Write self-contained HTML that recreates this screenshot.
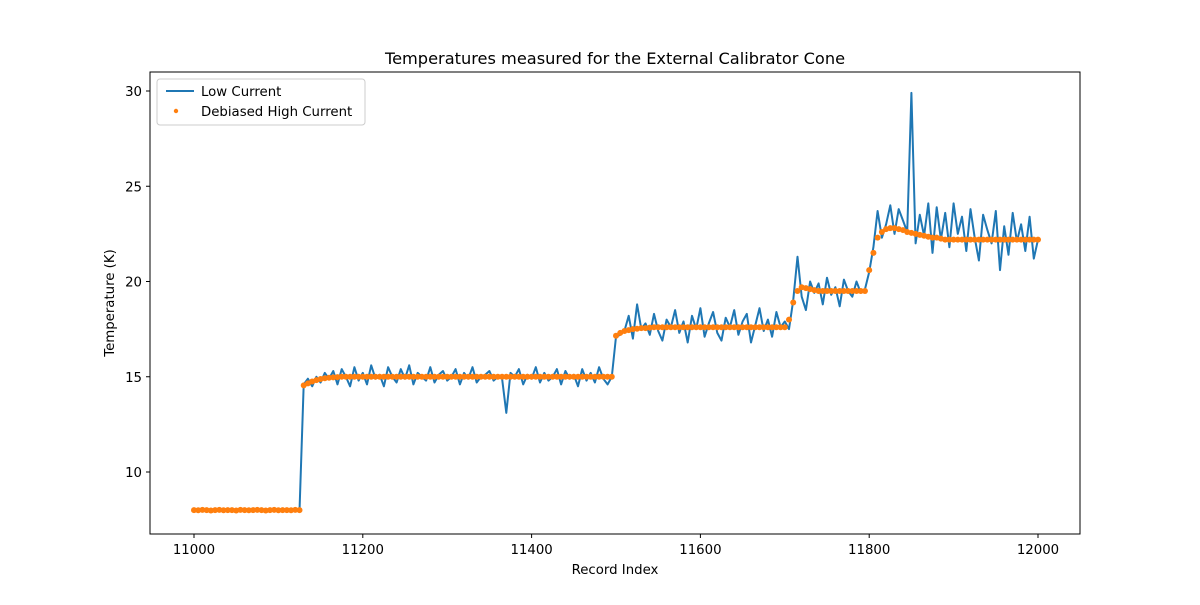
<!DOCTYPE html>
<html><head><meta charset="utf-8"><style>
body{margin:0;background:#fff}
text{font-family:"DejaVu Sans","Liberation Sans",sans-serif;fill:#000}
</style></head><body>
<svg id="chart" width="1200" height="600" viewBox="0 0 1200 600" xmlns="http://www.w3.org/2000/svg">
<rect width="1200" height="600" fill="#fff"/>
<g id="plot"></g>
<rect x="150" y="72" width="930" height="462" fill="none" stroke="#000" stroke-width="1"/>
<g id="axes"></g>
<text x="615" y="64" text-anchor="middle" font-size="16.2">Temperatures measured for the External Calibrator Cone</text>
<text x="615" y="574" text-anchor="middle" font-size="13.3">Record Index</text>
<text transform="translate(114,303) rotate(-90)" text-anchor="middle" font-size="13.3">Temperature (K)</text>
<g>
<rect x="157" y="79" width="208" height="46" rx="3" fill="#fff" fill-opacity="0.8" stroke="#ccc"/>
<line x1="166" y1="91" x2="194" y2="91" stroke="#1f77b4" stroke-width="2"/>
<text x="201" y="96" font-size="13.3">Low Current</text>
<circle cx="176" cy="111" r="2.2" fill="#ff7f0e"/>
<text x="201" y="116" font-size="13.3">Debiased High Current</text>
</g>
</svg>
<script>
const segStarts = [11000, 11130, 11500, 11710, 11800];
const step = 5;
const low1 = [8.02,7.98,8.01,7.97,8.03,7.99,8.0,7.96,8.02,7.98,8.01,7.97,8.0,8.03,7.98,8.0,7.97,8.02,7.99,8.01,7.96,8.0,7.98,8.02,7.97,7.95];
const low2 = [14.6,14.9,14.5,15.0,14.7,15.2,14.9,15.3,14.6,15.4,15.0,14.5,15.5,14.8,15.2,14.6,15.6,14.9,15.1,14.5,15.5,15.0,14.7,15.4,14.9,15.6,14.6,15.2,15.0,14.8,15.5,14.7,15.1,15.3,14.8,15.0,15.4,14.6,15.2,14.9,15.5,14.7,15.0,15.1,15.3,14.8,15.0,14.9,13.1,15.2,15.0,15.4,14.6,15.1,14.9,15.5,14.7,15.2,14.8,15.0,15.4,14.6,15.3,14.9,15.1,14.5,15.4,14.8,15.2,14.7,15.5,14.9,14.6,15.0];
const low3 = [17.1,17.2,17.4,18.2,17.0,18.8,17.5,17.8,17.2,18.3,17.4,16.9,18.0,17.6,18.5,17.3,17.9,16.8,18.2,17.5,18.6,17.1,17.8,18.4,17.3,16.9,18.1,17.6,18.5,17.2,17.9,18.3,16.8,17.7,18.6,17.4,18.0,17.1,18.4,17.6,17.9,17.5];
const low4 = [19.0,21.3,19.2,18.5,20.0,19.4,19.9,18.8,20.2,19.3,19.7,18.7,20.1,19.5,19.2,20.0,19.4,19.6];
const low5 = [20.5,21.8,23.7,22.3,23.0,24.0,22.5,23.8,23.2,22.6,29.9,22.0,23.5,22.4,24.1,21.5,23.9,22.2,23.6,21.8,24.1,22.5,23.4,21.6,23.8,22.3,21.1,23.5,22.7,22.0,23.7,20.6,22.9,21.4,23.6,22.1,23.0,21.6,23.4,21.2,22.2];
const high1 = [8.0,7.99,8.01,8.0,7.98,8.0,8.01,7.99,8.0,8.0,7.98,8.01,8.0,7.99,8.0,8.01,8.0,7.98,8.0,8.01,7.99,8.0,8.0,7.99,8.01,8.0];
const high2 = [14.55,14.65,14.75,14.82,14.88,14.92,14.95,14.97,14.98,15.0,15.0,15.0,15.0,15.0,15.0,15.0,15.0,15.0,15.0,15.0,15.0,15.0,15.0,15.0,15.0,15.0,15.0,15.0,15.0,15.0,15.0,15.0,15.0,15.0,15.0,15.0,15.0,15.0,15.0,15.0,15.0,15.0,15.0,15.0,15.0,15.0,15.0,15.0,15.0,15.0,15.0,15.0,15.0,15.0,15.0,15.0,15.0,15.0,15.0,15.0,15.0,15.0,15.0,15.0,15.0,15.0,15.0,15.0,15.0,15.0,15.0,15.0,15.0,15.0];
const high3 = [17.15,17.3,17.4,17.45,17.5,17.52,17.55,17.55,17.58,17.6,17.6,17.6,17.6,17.6,17.6,17.6,17.6,17.6,17.6,17.6,17.6,17.6,17.6,17.6,17.6,17.6,17.6,17.6,17.6,17.6,17.6,17.6,17.6,17.6,17.6,17.6,17.6,17.6,17.6,17.6,17.6,18.0];
const high4 = [18.9,19.5,19.7,19.65,19.6,19.55,19.5,19.5,19.5,19.5,19.5,19.5,19.5,19.5,19.5,19.5,19.5,19.5];
const high5 = [20.6,21.5,22.3,22.6,22.75,22.8,22.8,22.75,22.7,22.6,22.55,22.5,22.45,22.4,22.35,22.3,22.3,22.25,22.2,22.2,22.2,22.2,22.2,22.2,22.2,22.2,22.2,22.2,22.2,22.2,22.2,22.2,22.2,22.2,22.2,22.2,22.2,22.2,22.2,22.2,22.2];
const xTicks = [11000, 11200, 11400, 11600, 11800, 12000];
const yTicks = [10, 15, 20, 25, 30];

const NS = "http://www.w3.org/2000/svg";
const xScale = v => 194 + (v - 11000) * 0.844;
const yScale = v => 472 - (v - 10) * 19.05;
const plot = document.getElementById('plot');
const axes = document.getElementById('axes');
function mk(tag, attrs, parent) {
  const e = document.createElementNS(NS, tag);
  for (const k in attrs) e.setAttribute(k, attrs[k]);
  parent.appendChild(e); return e;
}
const lowSegs = [low1, low2, low3, low4, low5];
const highSegs = [high1, high2, high3, high4, high5];
let pts = [];
lowSegs.forEach((s, si) => s.forEach((v, i) => pts.push(xScale(segStarts[si] + i * step).toFixed(1) + ',' + yScale(v).toFixed(1))));
const line = mk('polyline', {points: pts.join(' '), fill: 'none', stroke: '#1f77b4', 'stroke-width': 2, 'stroke-linejoin': 'round'}, plot);


highSegs.forEach((s, si) => s.forEach((v, i) => {
  const c = mk('circle', {cx: xScale(segStarts[si] + i * step), cy: yScale(v), r: 3, fill: '#ff7f0e'}, plot);
  
  
}));
xTicks.forEach(t => {
  const x = xScale(t);
  mk('line', {x1: x, x2: x, y1: 534, y2: 538, stroke: '#000'}, axes);
  const tx = mk('text', {x: x, y: 554, 'text-anchor': 'middle', 'font-size': 13.3}, axes);
  tx.textContent = t;
  
  
});
yTicks.forEach(t => {
  const y = yScale(t);
  mk('line', {x1: 146, x2: 150, y1: y, y2: y, stroke: '#000'}, axes);
  const tx = mk('text', {x: 142, y: y + 5, 'text-anchor': 'end', 'font-size': 13.3}, axes);
  tx.textContent = t;
  
  
});
</script>
</body></html>
